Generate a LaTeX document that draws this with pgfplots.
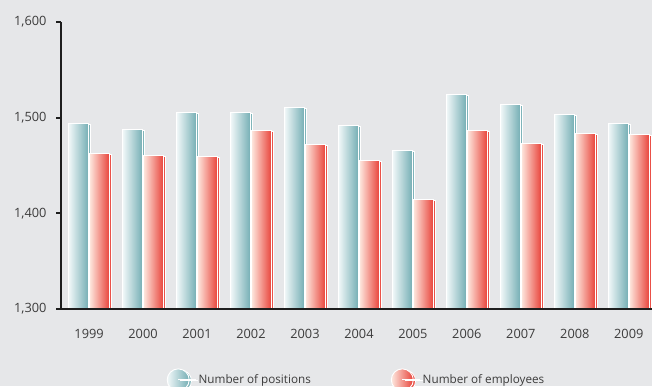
\documentclass[border=0pt]{standalone}
\usepackage{fontspec}
\setmainfont{Open Sans}
\usepackage{pgfplots}
\pgfplotsset{compat=1.18}
\definecolor{bg}{HTML}{E6E7E9}
\definecolor{axisc}{HTML}{1E1E1E}
\definecolor{txt}{HTML}{3C3C3C}
\definecolor{bA}{HTML}{F2F8F9}
\definecolor{bB}{HTML}{A6CED2}
\definecolor{bC}{HTML}{74AEB4}
\definecolor{rA}{HTML}{FEE8DF}
\definecolor{rB}{HTML}{F5A08B}
\definecolor{rC}{HTML}{E8433A}
\pgfplotsset{
  posbar/.style={ybar, bar width=20pt, bar shift=-10.5pt, draw=white, line width=0.9pt,
    left color=bA, middle color=bB, right color=bC,
    preaction={fill=black!55, transform canvas={xshift=2.3pt, yshift=-1pt}},
    legend image code/.code={\shade[left color=bA, middle color=bB, right color=bC] (10pt,0pt) circle (11pt);
      \path (10pt,0pt) -- (28pt,0pt);}},
  empbar/.style={ybar, bar width=20pt, bar shift=10.5pt, draw=white, line width=0.9pt,
    left color=rA, middle color=rB, right color=rC,
    preaction={fill=black!55, transform canvas={xshift=2.3pt, yshift=-1pt}},
    legend image code/.code={\shade[left color=rA, middle color=rB, right color=rC] (10pt,0pt) circle (11pt);
      \path (10pt,0pt) -- (28pt,0pt);}},
}
\begin{document}
\begin{tikzpicture}[x=1pt,y=1pt]
\useasboundingbox (0,0) rectangle (652,386);
\clip (0,0) rectangle (652,386);
\fill[bg] (0,0) rectangle (652,386);
\begin{axis}[
  scale only axis, width=591pt, height=287pt,
  at={(61pt,77pt)}, anchor=south west,
  xmin=-0.52, xmax=10.43, ymin=1300, ymax=1600,
  axis lines=left,
  axis line style={line width=2.6pt, color=axisc, -},
  axis on top,
  ytick={1300,1400,1500,1600},
  yticklabels={{1,300},{1,400},{1,500},{1,600}},
  xtick={0,...,10},
  xticklabels={1999,2000,2001,2002,2003,2004,2005,2006,2007,2008,2009},
  x tick style={draw=none},
  y tick style={line width=2pt, color=axisc},
  tick align=outside, major tick length=5pt,
  ticklabel style={font=\fontsize{12.8}{15}\selectfont, text=txt},
  yticklabel style={xshift=-6pt},
  xticklabel style={yshift=-12pt},
  legend columns=2,
  legend style={draw=none, fill=none, at={(0.5,-0.247)}, anchor=center,
    font=\fontsize{11.7}{13}\selectfont, text=txt,
    /tikz/every even column/.append style={column sep=78pt}},
]
\addplot[posbar] coordinates {(0,1494)};
\addlegendentry{Number of positions}
\addplot[empbar] coordinates {(0,1463)};
\addlegendentry{Number of employees}
\addplot[posbar, forget plot] coordinates {(1,1487.5)};
\addplot[posbar, forget plot] coordinates {(2,1505)};
\addplot[posbar, forget plot] coordinates {(3,1505)};
\addplot[posbar, forget plot] coordinates {(4,1511)};
\addplot[posbar, forget plot] coordinates {(5,1491.5)};
\addplot[posbar, forget plot] coordinates {(6,1466)};
\addplot[posbar, forget plot] coordinates {(7,1524)};
\addplot[posbar, forget plot] coordinates {(8,1513.5)};
\addplot[posbar, forget plot] coordinates {(9,1503)};
\addplot[posbar, forget plot] coordinates {(10,1494)};
\addplot[empbar, forget plot] coordinates {(1,1460)};
\addplot[empbar, forget plot] coordinates {(2,1459)};
\addplot[empbar, forget plot] coordinates {(3,1487)};
\addplot[empbar, forget plot] coordinates {(4,1472)};
\addplot[empbar, forget plot] coordinates {(5,1455.5)};
\addplot[empbar, forget plot] coordinates {(6,1414)};
\addplot[empbar, forget plot] coordinates {(7,1487)};
\addplot[empbar, forget plot] coordinates {(8,1473)};
\addplot[empbar, forget plot] coordinates {(9,1483)};
\addplot[empbar, forget plot] coordinates {(10,1482)};
\end{axis}
\end{tikzpicture}
\end{document}
